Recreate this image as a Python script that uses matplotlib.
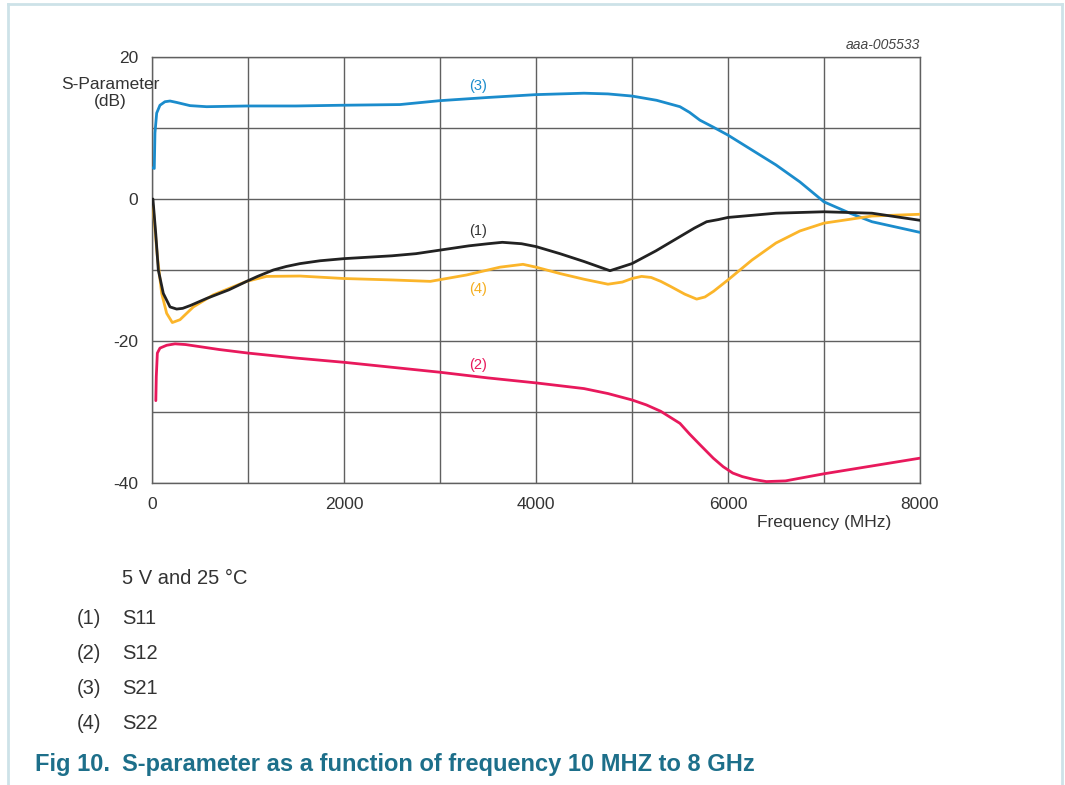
import matplotlib

matplotlib.use("Agg")
import matplotlib.pyplot as plt
from matplotlib.lines import Line2D

plt.rcParams["font.family"] = ["Liberation Sans", "DejaVu Sans"]

# S-parameters vs frequency, 5 V / 25 degC
s11_freq = [10, 40, 66, 118, 188, 257, 320, 400, 570, 800, 986, 1100, 1264, 1400, 1542,
            1750, 2000, 2500, 2750, 3000, 3300, 3500, 3650, 3850, 4000, 4250, 4500, 4771,
            5000, 5250, 5500, 5650, 5778, 5900, 6000, 6500, 7000, 7500, 8000]
s11_db = [0.0, -5.0, -10.0, -13.3, -15.2, -15.5, -15.4, -15.0, -14.0, -12.8, -11.6, -10.9,
          -10.0, -9.5, -9.1, -8.7, -8.4, -8.0, -7.7, -7.2, -6.6, -6.3, -6.1, -6.3, -6.7,
          -7.7, -8.8, -10.1, -9.1, -7.3, -5.3, -4.1, -3.2, -2.9, -2.6, -2.0, -1.8, -2.0,
          -3.0]

s12_freq = [40, 45, 56, 83, 153, 240, 350, 500, 700, 1000, 1500, 2000, 2500, 3000, 3500,
            4000, 4500, 4750, 5000, 5150, 5300, 5500, 5600, 5708, 5847, 5950, 6050, 6150,
            6271, 6400, 6600, 7000, 7500, 8000]
s12_db = [-28.4, -25.0, -21.7, -21.0, -20.6, -20.4, -20.5, -20.8, -21.2, -21.7, -22.4,
          -23.0, -23.7, -24.4, -25.2, -25.9, -26.7, -27.4, -28.3, -29.0, -29.9, -31.6,
          -33.1, -34.6, -36.5, -37.7, -38.6, -39.1, -39.5, -39.8, -39.7, -38.7, -37.6,
          -36.5]

s21_freq = [10, 24, 31, 49, 83, 135, 188, 257, 396, 569, 986, 1500, 1958, 2583, 3000,
            3500, 4000, 4500, 4750, 5000, 5257, 5500, 5600, 5708, 5850, 6000, 6250, 6500,
            6750, 7000, 7271, 7500, 8000]
s21_db = [4.4, 4.3, 9.3, 12.1, 13.2, 13.7, 13.8, 13.6, 13.15, 13.0, 13.1, 13.1, 13.2,
          13.3, 13.85, 14.3, 14.7, 14.9, 14.8, 14.5, 13.9, 13.0, 12.2, 11.1, 10.1, 9.0,
          6.9, 4.8, 2.4, -0.4, -2.0, -3.2, -4.7]

s22_freq = [10, 56, 101, 153, 212, 292, 431, 639, 986, 1194, 1542, 2000, 2500, 2900,
            3278, 3625, 3865, 4000, 4250, 4500, 4750, 4900, 5000, 5100, 5200, 5300, 5400,
            5550, 5674, 5760, 5850, 6000, 6250, 6500, 6750, 7000, 7500, 8000]
s22_db = [-0.9, -8.1, -13.3, -16.1, -17.4, -17.0, -15.2, -13.5, -11.6, -10.9, -10.85,
          -11.2, -11.4, -11.6, -10.7, -9.6, -9.2, -9.6, -10.5, -11.3, -12.0, -11.7, -11.2,
          -10.9, -11.05, -11.6, -12.3, -13.4, -14.1, -13.8, -13.0, -11.4, -8.6, -6.2,
          -4.5, -3.4, -2.4, -2.15]

curve_tags = ["(1)", "(2)", "(3)", "(4)"]
curve_names = ["S11", "S12", "S21", "S22"]
tag_freq = [3400, 3400, 3400, 3400]
tag_db = [-4.5, -23.4, 15.9, -12.7]

x_ticks = [0, 2000, 4000, 6000, 8000]
y_ticks = [-40, -20, 0, 20]

COLORS = {
    "S11": "#222222",
    "S12": "#e8195c",
    "S21": "#1b8ccc",
    "S22": "#fbb52a",
}
TAG_COLORS = {
    "S11": "#333333",
    "S12": "#e8195c",
    "S21": "#1b8ccc",
    "S22": "#f5ae1f",
}

fig = plt.figure(figsize=(10.65, 7.85), dpi=100)
ax = fig.add_axes([0.1427, 0.3847, 0.7211, 0.5427])

series = {
    "S11": (s11_freq, s11_db),
    "S12": (s12_freq, s12_db),
    "S21": (s21_freq, s21_db),
    "S22": (s22_freq, s22_db),
}
# draw S22 under S11 like the datasheet plot
for name in ["S12", "S21", "S22", "S11"]:
    f, db = series[name]
    ax.plot(f, db, color=COLORS[name], linewidth=2.0, solid_joinstyle="round",
            solid_capstyle="round", zorder=3)

for tag, name, f, db in zip(curve_tags, curve_names, tag_freq, tag_db):
    ax.text(f, db, tag, color=TAG_COLORS[name], fontsize=10.5, ha="center",
            va="center", zorder=4)

ax.set_xlim(0, 8000)
ax.set_ylim(-40, 20)
ax.set_xticks(range(0, 8001, 1000))
ax.set_yticks(range(-40, 21, 10))
ax.set_xticklabels([str(v) if v in x_ticks else "" for v in range(0, 8001, 1000)])
ax.set_yticklabels([str(v) if v in y_ticks else "" for v in range(-40, 21, 10)])
ax.tick_params(length=0, labelsize=12.5, labelcolor="#333333")
ax.tick_params(axis="x", pad=10)
ax.tick_params(axis="y", pad=10)
ax.grid(True, color="#606060", linewidth=1.0)
ax.set_axisbelow(True)
for spine in ax.spines.values():
    spine.set_color("#606060")
    spine.set_linewidth(1.0)

fig.text(110 / 1065, 1 - 93 / 785, "S-Parameter\n(dB)", ha="center", va="center",
         fontsize=12.5, color="#333333", linespacing=1.15)
fig.text(824 / 1065, 1 - 523 / 785, "Frequency (MHz)", ha="center", va="center",
         fontsize=12.5, color="#333333")
fig.text(920 / 1065, 1 - 45 / 785, "aaa-005533", ha="right", va="center",
         fontsize=10, style="italic", color="#444444")

# notes under the graph
fig.text(122 / 1065, 1 - 579 / 785, "5 V and 25 °C", ha="left", va="center",
         fontsize=14.5, color="#333333")
for i, (tag, name) in enumerate(zip(curve_tags, curve_names)):
    y = 1 - (619 + 34.7 * i) / 785
    fig.text(77 / 1065, y, tag, ha="left", va="center", fontsize=14.5,
             color="#333333")
    fig.text(122 / 1065, y, name, ha="left", va="center", fontsize=14.5,
             color="#333333")

fig.text(110 / 1065, 1 - 764 / 785, "Fig 10.", ha="right", va="center", fontsize=17,
         fontweight="bold", color="#1d6f8a")
fig.text(122 / 1065, 1 - 764 / 785,
         "S-parameter as a function of frequency 10 MHZ to 8 GHz", ha="left",
         va="center", fontsize=17, fontweight="bold", color="#1d6f8a")

# page frame
frame = "#cde2e8"
fig.add_artist(Line2D([8 / 1065, 8 / 1065], [0, 1 - 4 / 785], color=frame, lw=2,
                      transform=fig.transFigure))
fig.add_artist(Line2D([8 / 1065, 1062 / 1065], [1 - 4 / 785, 1 - 4 / 785], color=frame,
                      lw=2, transform=fig.transFigure))
fig.add_artist(Line2D([1062 / 1065, 1062 / 1065], [0, 1 - 4 / 785], color=frame, lw=2,
                      transform=fig.transFigure))

fig.savefig("out.png", dpi=100)
